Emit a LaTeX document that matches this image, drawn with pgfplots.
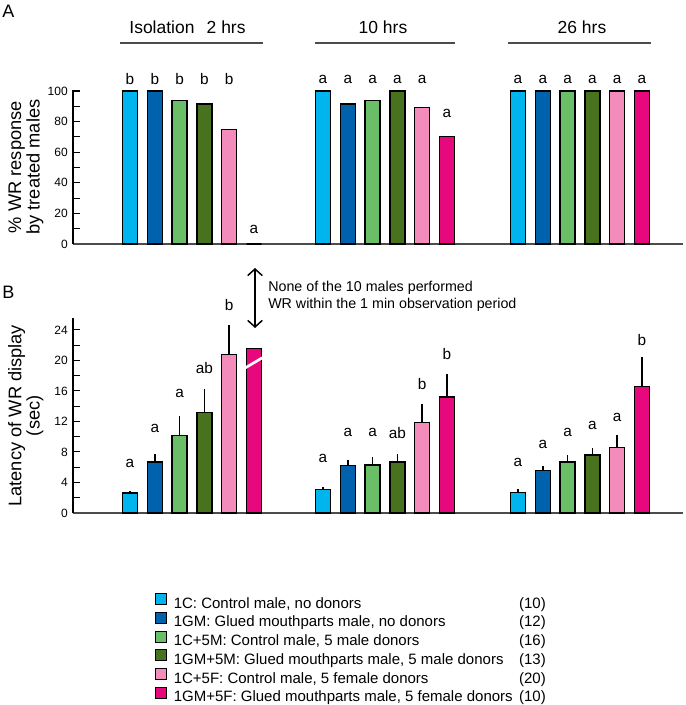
\documentclass[border=0pt]{standalone}
\usepackage{pgfplots}
\usepackage{pgfplotstable}
\pgfplotsset{compat=1.18}
\usepackage{fontspec}
\setmainfont{Liberation Sans}
\usetikzlibrary{arrows.meta}

\definecolor{cA}{HTML}{00B5EE}
\definecolor{cB}{HTML}{0061AC}
\definecolor{cC}{HTML}{6BBE68}
\definecolor{cD}{HTML}{48721E}
\definecolor{cE}{HTML}{F48CBB}
\definecolor{cF}{HTML}{E8087E}

% one table per treatment: bar position, % responding, latency mean, SE
\pgfplotstableread{
x     pct   lat   err
130   100   2.6   0.25
323   100   3.1   0.3
518   100   2.7   0.4
}\sA
\pgfplotstableread{
x     pct   lat   err
154.8 100   6.7   1.0
347.8 91.5  6.2   0.8
542.8 100   5.6   0.5
}\sB
\pgfplotstableread{
x     pct   lat   err
179.6 93.7  10.2  2.5
372.6 94    6.3   1.0
567.6 100   6.7   0.9
}\sC
\pgfplotstableread{
x     pct   lat   err
204.4 91.5  13.2  3.0
397.4 100   6.7   1.05
592.4 100   7.6   0.9
}\sD
\pgfplotstableread{
x     pct   lat   err
229.2 75    20.8  3.8
422.2 89.3  11.9  2.4
617.2 100   8.6   1.6
}\sE
\pgfplotstableread{
x     pct   lat   err
254   0     21.6  0
447   70.1  15.2  3.0
642   100   16.6  3.9
}\sF

% significance letters
\pgfplotstableread{
x     y     l
130   107.6 b
154.8 107.6 b
179.6 107.6 b
204.4 107.6 b
229.2 107.6 b
254   9.8   a
323   107.6 a
347.8 107.6 a
372.6 107.6 a
397.4 107.6 a
422.2 107.6 a
447   85.6  a
518   107.6 a
542.8 107.6 a
567.6 107.6 a
592.4 107.6 a
617.2 107.6 a
642   107.6 a
}\letA
\pgfplotstableread{
x     y     l
130   6.55  a
154.8 11.1  a
179.6 15.7  a
204.4 19.0  ab
229.2 27.3  b
323   7.2   a
347.8 10.5  a
372.6 10.5  a
397.4 10.5  ab
422.2 16.9  b
447   20.8  b
518   6.6   a
542.8 9.0   a
567.6 10.5  a
592.4 11.5  a
617.2 12.5  a
642   22.7  b
}\letB

\pgfplotsset{
  bars/.style={ybar, bar width=15, bar shift=0pt, draw=black, line width=1pt, fill=#1,
    legend image code/.code={\draw[fill=#1, draw=black, line width=0.6pt] (0pt,-0.2pt) rectangle (8.25pt,8.05pt);}},
  letters/.style={draw=none, mark=none, forget plot, nodes near coords, point meta=explicit symbolic,
    every node near coord/.append style={anchor=center, inner sep=0pt, font=\fontsize{11.5}{12}\selectfont}},
  panel/.style={
    x=0.75pt, xmin=73, xmax=683, ymin=0, clip=false,
    axis x line=bottom, axis y line=left, axis line style={-, line width=0.9pt},
    x axis line style={draw=black!70},
    xtick=\empty, tick align=inside, major tick length=5.25pt, minor tick length=5.25pt,
    minor y tick num=1, tick style={black, line width=0.8pt},
    /pgf/number format/assume math mode=true,
    yticklabel style={font=\fontsize{9}{10}\selectfont, inner sep=0pt, xshift=-3.75pt},
    ylabel style={at={([xshift=-22pt]axis description cs:0,0.5)}, anchor=south, align=center,
      inner sep=0pt, font=\fontsize{13.7}{12.75}\selectfont},
  },
}

\begin{document}
\begin{tikzpicture}
\begin{axis}[panel, y=1.1475pt, ymax=100.5, ytick={0,20,...,100},
  ylabel={\% WR response\\by treated males}]
\addplot[bars=cA] table[x=x, y=pct] {\sA};
\addplot[bars=cB] table[x=x, y=pct] {\sB};
\addplot[bars=cC] table[x=x, y=pct] {\sC};
\addplot[bars=cD] table[x=x, y=pct] {\sD};
\addplot[bars=cE] table[x=x, y=pct] {\sE};
\addplot[bars=cF] table[x=x, y=pct] {\sF};
\addplot[letters] table[x=x, y=y, meta=l] {\letA};
\end{axis}

\begin{axis}[panel, at={(0,-201.75pt)}, y=5.7225pt, ymax=25.5, ytick={0,4,...,24},
  ylabel={Latency of WR display\\(sec)},
  error bars/error bar style={black, line width=1.1pt},
  legend cell align=left,
  legend style={at={(axis description cs:0.134,-0.41)}, anchor=north west, draw=none, fill=none,
    inner sep=0pt, row sep=0.3pt, font=\fontsize{11.25}{13}\selectfont,
    nodes={inner sep=0pt, text height=8.4pt, text depth=2.4pt},
    /tikz/every odd column/.append style={column sep=5.25pt}}]
\addplot[bars=cA, error bars/.cd, y dir=plus, y explicit, error mark=none] table[x=x, y=lat, y error=err] {\sA};
\addlegendentry{\makebox[279pt][l]{1C: Control male, no donors\hfill(10)}}
\addplot[bars=cB, error bars/.cd, y dir=plus, y explicit, error mark=none] table[x=x, y=lat, y error=err] {\sB};
\addlegendentry{\makebox[279pt][l]{1GM: Glued mouthparts male, no donors\hfill(12)}}
\addplot[bars=cC, error bars/.cd, y dir=plus, y explicit, error mark=none] table[x=x, y=lat, y error=err] {\sC};
\addlegendentry{\makebox[279pt][l]{1C+5M: Control male, 5 male donors\hfill(16)}}
\addplot[bars=cD, error bars/.cd, y dir=plus, y explicit, error mark=none] table[x=x, y=lat, y error=err] {\sD};
\addlegendentry{\makebox[279pt][l]{1GM+5M: Glued mouthparts male, 5 male donors\hfill(13)}}
\addplot[bars=cE, error bars/.cd, y dir=plus, y explicit, error mark=none] table[x=x, y=lat, y error=err] {\sE};
\addlegendentry{\makebox[279pt][l]{1C+5F: Control male, 5 female donors\hfill(20)}}
\addplot[bars=cF, error bars/.cd, y dir=plus, y explicit, error mark=none] table[x=x, y=lat, y error=err] {\sF};
\addlegendentry{\makebox[279pt][l]{1GM+5F: Glued mouthparts male, 5 female donors\hfill(10)}}
\addplot[letters] table[x=x, y=y, meta=l] {\letB};
% break mark on the bar that has no value
\draw[white, line width=2pt] (axis cs:245,19.0) -- (axis cs:263,20.4);
\end{axis}

% annotations, in reference pixels
\begin{scope}[shift={(-54.75pt,183pt)}, x=0.75pt, y=-0.75pt]
\node[font=\fontsize{13.5}{14}\selectfont] at (8.5,11.5) {A};
\node[font=\fontsize{13.5}{14}\selectfont] at (8.5,292) {B};
\begin{scope}[font=\fontsize{13.1}{14}\selectfont]
\node at (187.5,27) {Isolation\hspace{0.7em}2 hrs};
\node at (383,27) {10 hrs};
\node at (582,27) {26 hrs};
\end{scope}
\begin{scope}[draw=black!70, line width=0.8pt]
\draw (120,43) -- (263,43);
\draw (315,43) -- (455,43);
\draw (508,43) -- (651,43);
\end{scope}
\draw[line width=1.1pt, {Straight Barb[length=5pt,width=11pt]}-{Straight Barb[length=5pt,width=11pt]}] (255,268) -- (255,328);
\node[anchor=west, align=left, inner sep=0pt, font=\fontsize{10.7}{12.75}\selectfont] at (268,296.5)
  {None of the 10 males performed\\WR within the 1 min observation period};
% page = reference image, in its pixels
\pgfresetboundingbox
\path[use as bounding box] (0,0) rectangle (685,705);
\end{scope}
\end{tikzpicture}
\end{document}
